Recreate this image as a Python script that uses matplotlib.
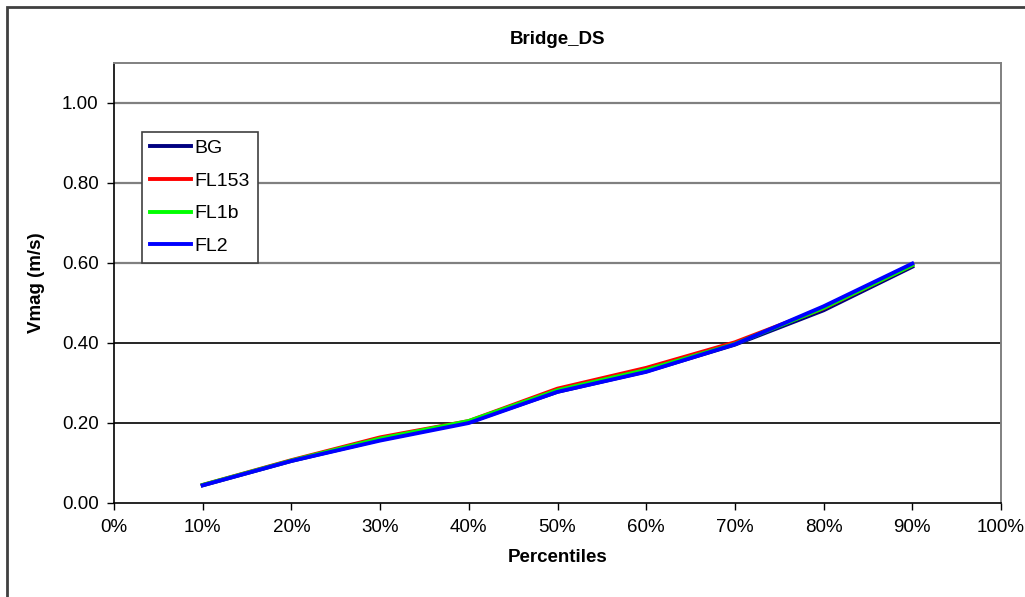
import matplotlib.pyplot as plt
from matplotlib.patches import Rectangle
from matplotlib.ticker import FuncFormatter, MultipleLocator

plt.rcParams['font.family'] = ['Liberation Sans', 'DejaVu Sans']

# percentile positions and velocity magnitudes (m/s)
percentiles = [0.1, 0.2, 0.3, 0.4, 0.5, 0.6, 0.7, 0.8, 0.9]
bg = [0.043, 0.104, 0.157, 0.201, 0.277, 0.328, 0.395, 0.481, 0.590]
fl153 = [0.044, 0.106, 0.163, 0.204, 0.285, 0.337, 0.401, 0.486, 0.594]
fl1b = [0.044, 0.105, 0.160, 0.204, 0.281, 0.332, 0.397, 0.487, 0.594]
fl2 = [0.043, 0.104, 0.155, 0.199, 0.277, 0.327, 0.396, 0.491, 0.598]

series = [
    ('BG', bg, '#000080'),
    ('FL153', fl153, '#ff0000'),
    ('FL1b', fl1b, '#00ff00'),
    ('FL2', fl2, '#0000ff'),
]

W, H = 1025, 597
left, right, top, bottom = 114, 1001, 63, 502.5
fig = plt.figure(figsize=(W / 100, H / 100), dpi=100)
ax = fig.add_axes([left / W, 1 - bottom / H, (right - left) / W, (bottom - top) / H])

# outer chart frame (runs off the right and bottom edges)
fig.patches.append(Rectangle((7 / W, -0.05), 1.1, (H - 7) / H + 0.05,
                             transform=fig.transFigure, fill=False,
                             edgecolor='#404040', linewidth=2))

for y in [0.2, 0.4]:
    ax.axhline(y, color='black', linewidth=1.2, zorder=1)
for y in [0.6, 0.8, 1.0]:
    ax.axhline(y, color='#808080', linewidth=1.6, zorder=1)

for name, vals, col in series:
    ax.plot(percentiles, vals, color=col, linewidth=2.8, label=name, zorder=3)

ax.set_xlim(0, 1)
ax.set_ylim(0, 1.1)
ax.xaxis.set_major_locator(MultipleLocator(0.1))
ax.set_yticks([0, 0.2, 0.4, 0.6, 0.8, 1.0])
ax.xaxis.set_major_formatter(FuncFormatter(lambda v, p: f'{v * 100:.0f}%'))
ax.yaxis.set_major_formatter(FuncFormatter(lambda v, p: f'{v:.2f}'))
ax.tick_params(axis='both', labelsize=13.5, length=5, width=1, color='black', direction='out')
ax.tick_params(axis='x', pad=7)
ax.tick_params(axis='y', pad=6)

for s in ['left', 'bottom']:
    ax.spines[s].set_color('black')
    ax.spines[s].set_linewidth(1.2)
for s in ['top', 'right']:
    ax.spines[s].set_color('#808080')
    ax.spines[s].set_linewidth(1.4)

ax.set_title('Bridge_DS', fontsize=13.5, fontweight='bold', pad=14)
ax.set_xlabel('Percentiles', fontsize=13.5, fontweight='bold', labelpad=9)
ax.set_ylabel('Vmag (m/s)', fontsize=13.5, fontweight='bold', labelpad=12)

leg = ax.legend(loc='upper left',
                bbox_to_anchor=((142 - left) / (right - left), (bottom - 131.5) / (bottom - top)),
                fontsize=14, frameon=True, fancybox=False, framealpha=1,
                edgecolor='#404040', handlelength=2.1, handletextpad=0.2,
                borderpad=0.4, labelspacing=0.78, borderaxespad=0)
leg.get_frame().set_linewidth(1.2)

fig.savefig('out.png', dpi=100)
